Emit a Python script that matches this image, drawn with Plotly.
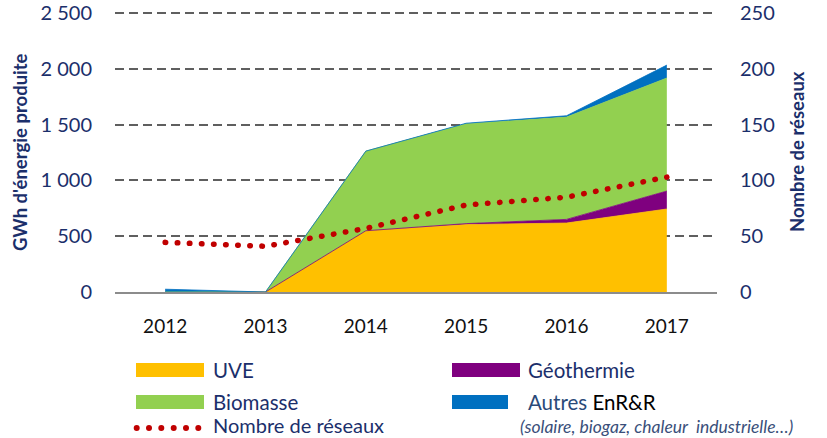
import plotly.graph_objects as go

years = [2012, 2013, 2014, 2015, 2016, 2017]
uve = [0, 0, 549, 605, 618, 744]
geothermie = [0, 0, 0, 8, 33, 161]
biomasse = [0, 0, 714, 895, 917, 1013]
autres = [25, 0, 0, 5, 12, 116]
nb_reseaux = [44.5, 41, 57, 78, 85, 103]

left_ticks = [0, 500, 1000, 1500, 2000, 2500]
right_ticks = [0, 50, 100, 150, 200, 250]

C_UVE = "#FFC000"
C_GEO = "#7F007F"
C_BIO = "#92D050"
C_AUT = "#0070C0"
C_RES = "#C00000"
NAVY = "#1b2f6b"
FONT = "Lato"

# plot area in pixels
L, R, T, B = 115, 717, 12, 292
W, H = 827, 438


def px(p):
    return (p - L) / (R - L)


def py(p):
    return (B - p) / (B - T)


fig = go.Figure()
for name, vals, col in [("UVE", uve, C_UVE), ("Géothermie", geothermie, C_GEO),
                        ("Biomasse", biomasse, C_BIO), ("Autres EnR&R", autres, C_AUT)]:
    fig.add_trace(go.Scatter(x=years, y=vals, name=name, stackgroup="e", mode="lines",
                             line=dict(color=col, width=0.8), fillcolor=col,
                             showlegend=False, hoverinfo="skip"))

fig.add_trace(go.Scatter(x=years, y=nb_reseaux, name="Nombre de réseaux", yaxis="y2",
                         mode="lines", line=dict(color=C_RES, width=5.5, dash="0.5px,11.6px"),
                         showlegend=False, hoverinfo="skip"))

fig.update_layout(
    width=W, height=H,
    margin=dict(l=L, r=W - R, t=T, b=H - B),
    paper_bgcolor="white", plot_bgcolor="white",
    separators=", ",
    font=dict(family=FONT, color=NAVY),
    xaxis=dict(range=[2011.5, 2017.5], tickvals=years, ticktext=[str(y) for y in years],
               tickfont=dict(size=19, color="#111111", family=FONT), showgrid=False,
               showline=True, linecolor="#8c8c8c", linewidth=2, ticks="",
               ticklabelstandoff=16, zeroline=False, automargin=False),
    yaxis=dict(range=[0, 2510], tickvals=left_ticks, tickformat=",d",
               tickfont=dict(size=20, color=NAVY, family=FONT),
               showgrid=True, gridcolor="#5f5f5f", gridwidth=2, griddash="9px,5px",
               zeroline=False, ticks="", ticklabelstandoff=22, automargin=False),
    yaxis2=dict(range=[0, 251], tickvals=right_ticks, overlaying="y", side="right",
                tickfont=dict(size=20, color=NAVY, family=FONT), showgrid=False,
                zeroline=False, ticks="", ticklabelstandoff=22, automargin=False),
)

ann = []
shapes = []
ann.append(dict(text="<b>GWh d'énergie produite</b>", x=px(20), y=py(152), xref="paper", yref="paper",
                xanchor="center", yanchor="middle",
                textangle=-90, showarrow=False, font=dict(size=18.5, color=NAVY, family=FONT)))
ann.append(dict(text="<b>Nombre de réseaux</b>", x=px(797), y=py(152), xref="paper", yref="paper",
                xanchor="center", yanchor="middle",
                textangle=-90, showarrow=False, font=dict(size=18.5, color=NAVY, family=FONT)))

# legend swatches
for (x0, x1, y0, y1, col) in [(136, 204, 363, 377, C_UVE), (136, 204, 395, 409, C_BIO),
                               (452, 520, 363, 377, C_GEO), (452, 508, 395, 409, C_AUT)]:
    shapes.append(dict(type="rect", xref="paper", yref="paper", x0=px(x0), x1=px(x1),
                       y0=py(y1), y1=py(y0), fillcolor=col, line=dict(width=0)))
for cx in [136.7, 149, 161.3, 173.7, 186, 198.3]:
    shapes.append(dict(type="circle", xref="paper", yref="paper", xsizemode="pixel",
                       ysizemode="pixel", xanchor=px(cx), yanchor=py(428),
                       x0=-3, x1=3, y0=-3, y1=3, fillcolor=C_RES, line=dict(width=0)))

def lab(text, x, y, size=20.5, color=NAVY, italic=False):
    t = f"<i>{text}</i>" if italic else text
    ann.append(dict(text=t, x=px(x), y=py(y), xref="paper", yref="paper", xanchor="left",
                    yanchor="middle", showarrow=False, font=dict(size=size, color=color, family=FONT)))

lab("UVE", 211, 370)
lab("Biomasse", 211, 402)
lab("Nombre de réseaux", 211, 425, size=20)
lab("Géothermie", 526, 370)
lab("Autres <span style='color:#000000'>EnR&R</span>", 526, 402, color="#2a4a78")
lab("(solaire, biogaz, chaleur  industrielle…)", 518, 426, size=17.5, color="#3a4f7a", italic=True)

fig.update_layout(annotations=ann, shapes=shapes)

post = """
document.documentElement.style.margin = '0';
document.body.style.margin = '0';
document.body.style.padding = '0';
document.body.style.overflow = 'hidden';
var gd = document.getElementById('{plot_id}');
function fixCaps(){
  gd.querySelectorAll('.scatterlayer .trace path.js-line').forEach(function(p){
    if ((p.style.stroke || '').indexOf('192, 0, 0') >= 0) { p.style.strokeLinecap = 'round'; }
  });
}
fixCaps();
gd.on('plotly_afterplot', fixCaps);
"""
fig.write_html("out.html", post_script=post, config={"displayModeBar": False})
